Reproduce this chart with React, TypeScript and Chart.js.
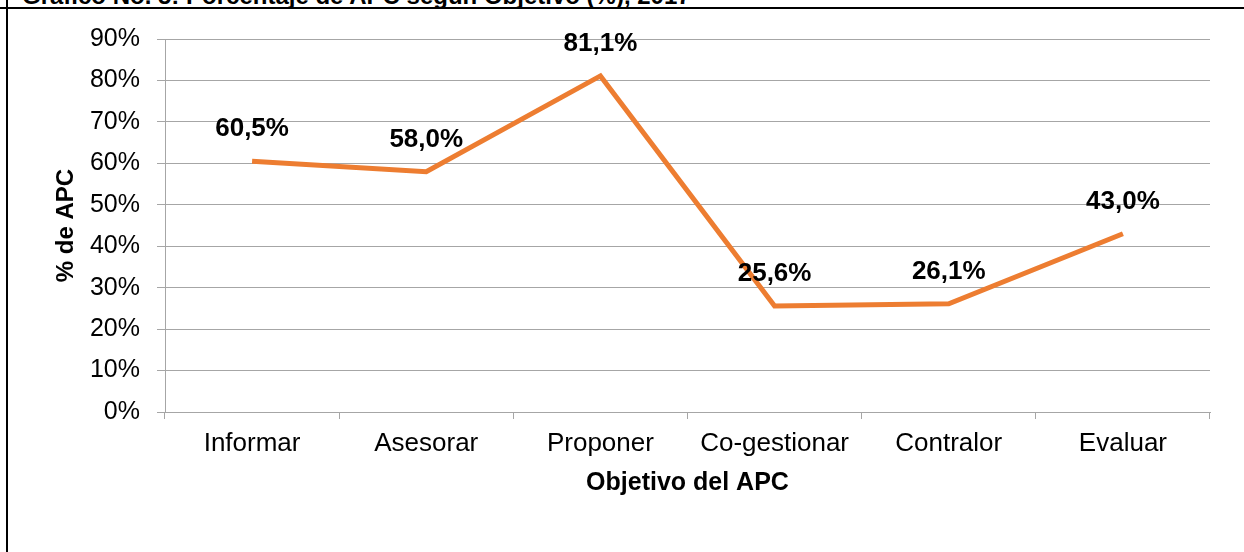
import React, { useEffect, useRef } from "react";
import { Chart, registerables } from "chart.js";

Chart.register(...registerables);

const titleText = "Gráfico No. 5: Porcentaje de APC según Objetivo (%), 2017";
const categories = ["Informar", "Asesorar", "Proponer", "Co-gestionar", "Contralor", "Evaluar"];
const values = [60.5, 58.0, 81.1, 25.6, 26.1, 43.0];
const valueLabels = ["60,5%", "58,0%", "81,1%", "25,6%", "26,1%", "43,0%"];
const yTitle = "% de APC";
const xTitle = "Objetivo del APC";

const FONT = "'Liberation Sans', Arial, sans-serif";

const labelPlugin = {
  id: "valueLabels",
  afterDatasetsDraw(chart: any) {
    const { ctx } = chart;
    const meta = chart.getDatasetMeta(0);
    ctx.save();
    ctx.font = `bold 26px ${FONT}`;
    ctx.fillStyle = "#000";
    ctx.textAlign = "center";
    ctx.textBaseline = "alphabetic";
    meta.data.forEach((pt: any, i: number) => {
      ctx.fillText(valueLabels[i], pt.x, pt.y - 25);
    });
    ctx.restore();
  },
};

export default function App() {
  const ref = useRef<HTMLCanvasElement>(null);
  useEffect(() => {
    if (!ref.current) return;
    const gridColor = "#a6a6a6";
    const chart = new Chart(ref.current, {
      type: "line",
      data: {
        labels: categories,
        datasets: [
          {
            data: values,
            borderColor: "#ED7D31",
            backgroundColor: "#ED7D31",
            borderWidth: 5,
            pointRadius: 0,
            tension: 0,
          },
        ],
      },
      options: {
        responsive: false,
        animation: false,
        devicePixelRatio: 1,
        layout: { padding: { top: 39, right: 34, left: 0, bottom: 0 } },
        plugins: { legend: { display: false }, tooltip: { enabled: false }, title: { display: false } },
        scales: {
          x: {
            type: "category",
            offset: true,
            grid: { display: true, offset: true, drawOnChartArea: false, color: gridColor, tickLength: 7, lineWidth: 1 },
            border: { color: gridColor, width: 1 },
            ticks: { color: "#000", font: { family: FONT, size: 26 }, padding: 9, maxRotation: 0 },
            title: { display: true, text: xTitle, color: "#000", font: { family: FONT, size: 25, weight: "bold" }, padding: { top: 0, bottom: 54 } },
            afterFit: (s: any) => { s.height = 140; },
          },
          y: {
            min: 0,
            max: 90,
            ticks: { stepSize: 10, color: "#000", font: { family: FONT, size: 25 }, padding: 17, callback: (v: any) => `${v}%` },
            grid: { color: gridColor, tickLength: 8, lineWidth: 1 },
            border: { color: gridColor, width: 1 },
            title: { display: true, text: yTitle, color: "#000", font: { family: FONT, size: 24, weight: "bold" }, padding: { top: 52, bottom: 0 } },
            afterFit: (s: any) => { s.width = 165; },
          },
        },
      },
      plugins: [labelPlugin],
    });
    return () => chart.destroy();
  }, []);

  return (
    <div style={{ position: "absolute", left: 0, top: 0, width: 1244, height: 552, overflow: "hidden", background: "#fff" }}>
      <div
        style={{
          position: "absolute",
          left: 22,
          top: -16,
          fontFamily: FONT,
          fontWeight: "bold",
          fontSize: 24,
          lineHeight: "24px",
          whiteSpace: "nowrap",
          color: "#000",
        }}
      >
        {titleText}
      </div>
      <div style={{ position: "absolute", left: 0, top: 7, width: 1244, height: 2, background: "#000" }} />
      <div style={{ position: "absolute", left: 6, top: 0, width: 2, height: 552, background: "#000" }} />
      <canvas ref={ref} width={1244} height={552} style={{ position: "absolute", left: 0, top: 0, width: 1244, height: 552 }} />
    </div>
  );
}
